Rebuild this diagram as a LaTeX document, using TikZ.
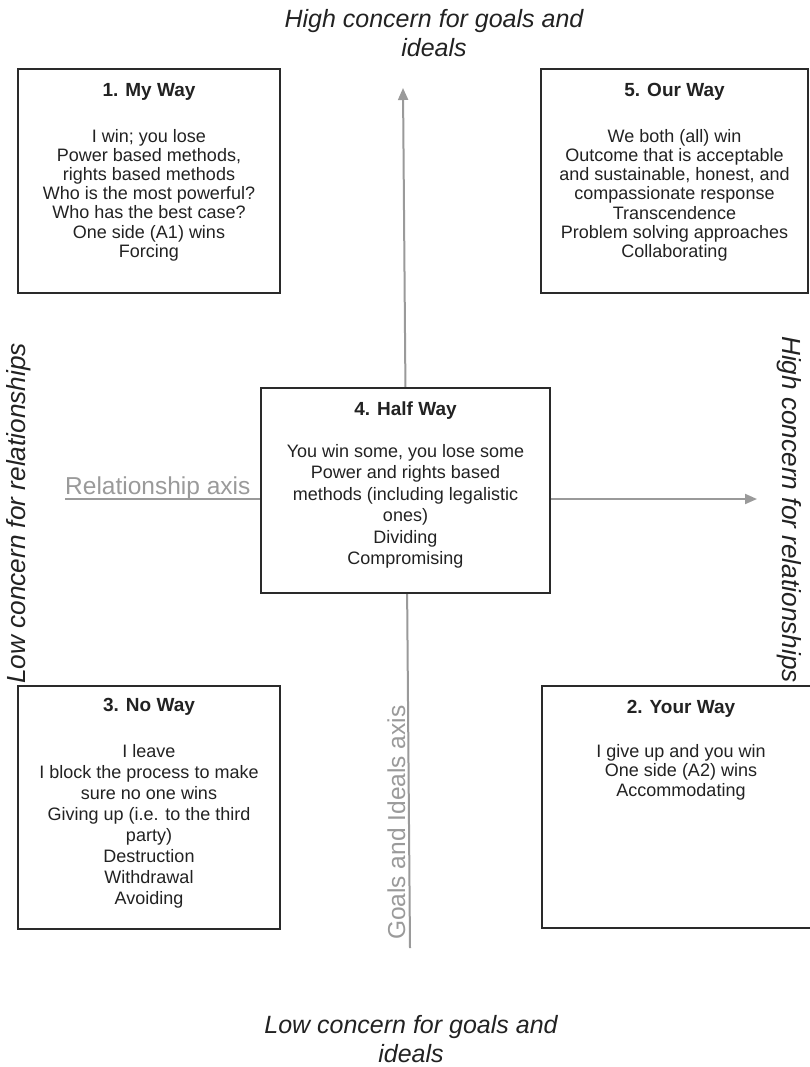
\documentclass[tikz,border=0pt]{standalone}
\usepackage{fontspec}
\setmainfont{Liberation Sans}
\usetikzlibrary{arrows.meta}
\definecolor{axisgray}{HTML}{9A9A9A}
\definecolor{boxline}{HTML}{2A2A2A}
\definecolor{inktext}{HTML}{222222}
\begin{document}
\begin{tikzpicture}[x=1pt,y=-1pt,
  quad/.style={draw=boxline,line width=1.3pt,fill=white,rectangle,inner sep=0pt},
  quadtext/.style={align=center,inner sep=0pt,anchor=north,text=inktext},
  axisline/.style={draw=axisgray,line width=2pt},
  axistip/.style={-{Triangle[width=10pt,length=12pt]}},
  axislabel/.style={text=axisgray,font=\fontsize{24.5}{29}\selectfont,inner sep=0pt},
  concern/.style={font=\fontsize{25}{29}\selectfont\itshape,align=center,inner sep=0pt,text=inktext},
  sidelabel/.style={font=\fontsize{26.2}{30}\selectfont\itshape,inner sep=0pt,text=inktext}]
\useasboundingbox (0,0) rectangle (810,1067);

% axes
\coordinate (vbot) at (410,948);
\coordinate (vtop) at (403,88);
\coordinate (hleft) at (65,499);
\coordinate (hright) at (757,499);
\draw[axisline,axistip] (vbot) -- (vtop);
\draw[axisline,axistip] (hleft) -- (hright);

% boxes
\node[quad,minimum width=262pt,minimum height=224pt] (b1) at (149,181) {};
\node[quad,minimum width=267pt,minimum height=224pt] (b5) at (674.5,181) {};
\node[quad,minimum width=289pt,minimum height=205pt] (b4) at (405.5,490.5) {};
\node[quad,minimum width=262pt,minimum height=243pt] (b3) at (149,807.5) {};
\node[quad,minimum width=278pt,minimum height=242pt] (b2) at (681,807) {};

% box texts
\node[quadtext,font=\fontsize{18}{19.2}\selectfont] (t1) at ([yshift=-14.5pt]b1.north)
 {{\bfseries\fontsize{19}{19.2}\selectfont 1. My Way}\\[26.8pt]
  I win; you lose\\Power based methods,\\rights based methods\\Who is the most powerful?\\Who has the best case?\\One side (A1) wins\\Forcing};
\node[quadtext,font=\fontsize{18}{19.2}\selectfont] (t5) at ([yshift=-14.5pt]b5.north)
 {{\bfseries\fontsize{19}{19.2}\selectfont 5. Our Way}\\[26.8pt]
  We both (all) win\\Outcome that is acceptable\\and sustainable, honest, and\\compassionate response\\Transcendence\\Problem solving approaches\\Collaborating};
\node[quadtext,font=\fontsize{18}{21.5}\selectfont] (t4) at ([yshift=-13.8pt]b4.north)
 {{\bfseries\fontsize{19}{21.5}\selectfont 4. Half Way}\\[20.5pt]
  You win some, you lose some\\Power and rights based\\methods (including legalistic\\ones)\\Dividing\\Compromising};
\node[quadtext,font=\fontsize{18}{20.9}\selectfont] (t3) at ([yshift=-13pt]b3.north)
 {{\bfseries\fontsize{19}{20.9}\selectfont 3. No Way}\\[25.1pt]
  I leave\\I block the process to make\\sure no one wins\\Giving up (i.e. to the third\\party)\\Destruction\\Withdrawal\\Avoiding};
\node[quadtext,font=\fontsize{18}{19.5}\selectfont] (t2) at ([yshift=-14.5pt]b2.north)
 {{\bfseries\fontsize{19}{19.5}\selectfont 2. Your Way}\\[24.5pt]
  I give up and you win\\One side (A2) wins\\Accommodating};

% axis labels
\node[axislabel,anchor=base west] (rlab) at (65,494) {Relationship axis};
\node[axislabel,anchor=base west,rotate=90] (glab) at (405,940) {Goals and Ideals axis};

% outer labels
\node[concern,anchor=north] (topl) at (434,9) {High concern for goals and\\ideals};
\node[concern,anchor=north] (botl) at (411,1015) {Low concern for goals and\\ideals};
\node[sidelabel,anchor=base west,rotate=90] (leftl) at (25,684) {Low concern for relationships};
\node[sidelabel,anchor=base west,rotate=-90] (rightl) at (782,336) {High concern for relationships};
\end{tikzpicture}
\end{document}
